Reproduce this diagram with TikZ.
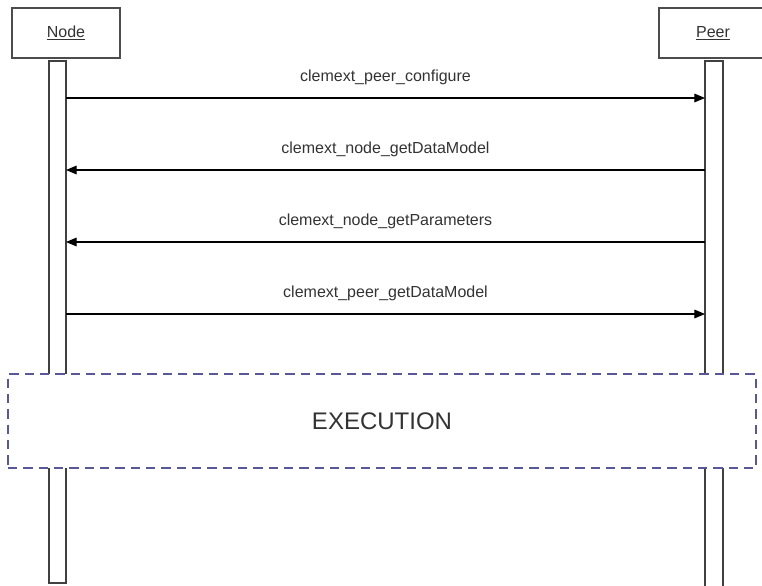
\documentclass[tikz,border=0pt]{standalone}
\usepackage{fontspec}
\setmainfont{Liberation Sans}
\usetikzlibrary{arrows.meta}
\definecolor{execblue}{RGB}{88,88,150}
\begin{document}
\begin{tikzpicture}[%
    x=0.75pt,y=-0.75pt,
    every node/.style={%
      inner sep=0pt,outer sep=0pt,text=black!80,font=\fontsize{12}{14}\selectfont},
    objbox/.style={draw=black!70,line width=1.2pt,fill=white,
      minimum width=81pt,minimum height=37.5pt},
    lifebar/.style={draw=black!75,line width=0.9pt,fill=white,
      minimum height=391.5pt,anchor=north},
    msg/.style={draw=black,line width=0.9pt,-{Triangle[length=8pt,width=6.5pt]}},
    execbox/.style={draw=execblue,line width=1.2pt,fill=white,
      dash pattern=on 7pt off 4.5pt,minimum width=561pt,minimum height=70.5pt,
      font=\fontsize{18}{22}\selectfont}
    ]
    \useasboundingbox (0,0) rectangle (762,585);
    \node[objbox]at(66,33)(node){\underline{Node}};
    \node[objbox]at(713,33)(peer){\underline{Peer}};
    \node[lifebar,minimum width=12.75pt]at(57.5,61)(nodebar){};
    \node[lifebar,minimum width=13.5pt,minimum height=396pt]at(714,61)(peerbar){};
    \coordinate (m1) at (0,98);
    \coordinate (m2) at (0,170);
    \coordinate (m3) at (0,242);
    \coordinate (m4) at (0,314);
    \draw[msg](nodebar.east|-m1)--(peerbar.west|-m1)
    node[midway,above=10pt]{clemext\_peer\_configure};
    \draw[msg](peerbar.west|-m2)--(nodebar.east|-m2)
    node[midway,above=10pt]{clemext\_node\_getDataModel};
    \draw[msg](peerbar.west|-m3)--(nodebar.east|-m3)
    node[midway,above=10pt]{clemext\_node\_getParameters};
    \draw[msg](nodebar.east|-m4)--(peerbar.west|-m4)
    node[midway,above=10pt]{clemext\_peer\_getDataModel};
    % execution block drawn over the lifelines
    \node[execbox]at(382,421)(exec){EXECUTION};
  \end{tikzpicture}
\end{document}
